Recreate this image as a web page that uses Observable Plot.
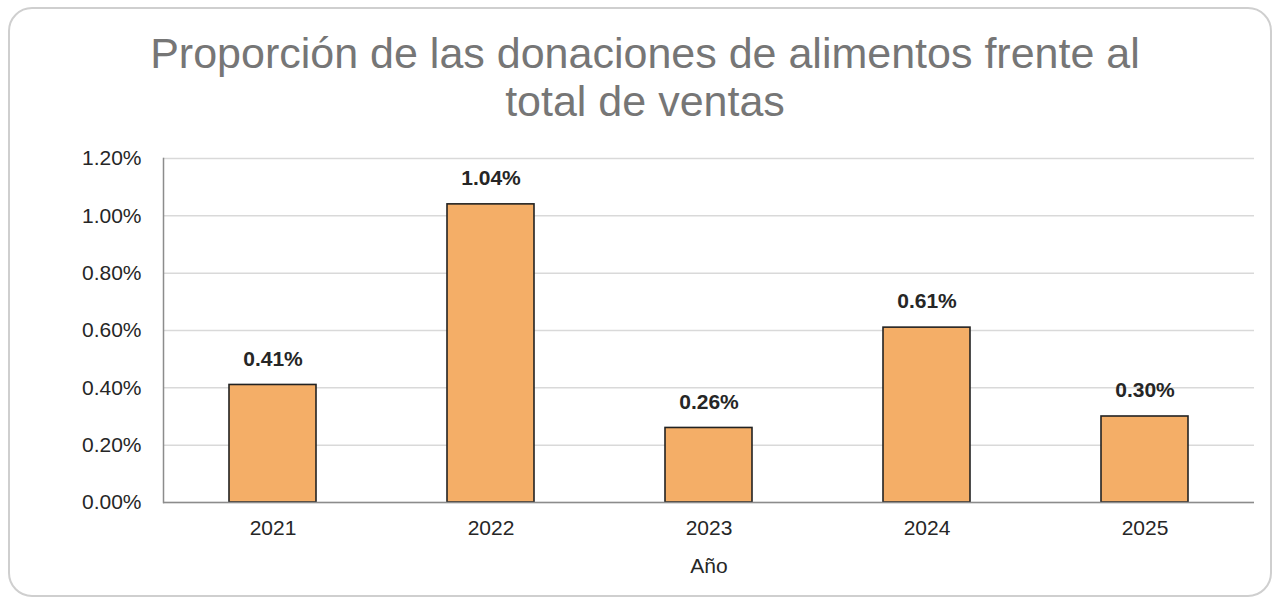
<!DOCTYPE html>
<html>
<head>
<meta charset="utf-8">
<script src="https://cdn.jsdelivr.net/npm/d3@7"></script>
<script src="https://cdn.jsdelivr.net/npm/@observablehq/plot@0.6"></script>
<style>
  html, body { margin: 0; padding: 0; background: #fff; }
  #wrap { position: relative; width: 1278px; height: 603px; overflow: hidden; font-family: "Liberation Sans", Arial, sans-serif; }
  #card { position: absolute; left: 8px; top: 7px; width: 1264px; height: 590px; border: 2px solid #cfcfcf; border-radius: 24px; box-sizing: border-box; }
  #title { position: absolute; left: 0; width: 1290px; top: 29px; text-align: center; font-size: 43px; line-height: 48px; color: #767676; }
  #chart { position: absolute; left: 0; top: 0; }
</style>
</head>
<body>
<div id="wrap">
  <div id="card"></div>
  <div id="chart"></div>
  <div id="title">Proporción de las donaciones de alimentos frente al<br>total de ventas</div>
</div>
<script>
const years = ["2021", "2022", "2023", "2024", "2025"];
const values = [0.0041, 0.0104, 0.0026, 0.0061, 0.0030];
const yTicks = [0, 0.002, 0.004, 0.006, 0.008, 0.010, 0.012];
const xLabel = "Año";

const data = years.map((y, i) => ({year: y, value: values[i]}));
const pct = d3.format(".2%");

const chart = Plot.plot({
  width: 1278,
  height: 603,
  marginLeft: 163,
  marginRight: 24,
  marginTop: 158,
  marginBottom: 101,
  style: {fontFamily: "'Liberation Sans', Arial, sans-serif", fontSize: "21px", color: "#262626", background: "transparent"},
  x: {domain: years, paddingInner: 0.6, paddingOuter: 0.3, label: null},
  y: {domain: [0, 0.012], label: null},
  marks: [
    Plot.gridY(yTicks, {stroke: "#d9d9d9", strokeOpacity: 1, strokeWidth: 1.5}),
    Plot.barY(data, {x: "year", y: "value", fill: "#F4AE67", stroke: "#222", strokeWidth: 1.6}),
    Plot.frame({anchor: "left", stroke: "#8c8c8c", strokeWidth: 1.5}),
    Plot.ruleY([0], {stroke: "#8c8c8c", strokeWidth: 1.5}),
    Plot.axisY(yTicks, {tickSize: 0, tickPadding: 22, tickFormat: pct, fontSize: 21, fill: "#262626"}),
    Plot.axisX({tickSize: 0, tickPadding: 18, fontSize: 21, fill: "#262626", label: null}),
    Plot.text(data, {x: "year", y: "value", text: d => pct(d.value), dy: -26, fontWeight: "bold", fontSize: 21, fill: "#262626"}),
    Plot.text([xLabel], {frameAnchor: "bottom", dy: 70, fontSize: 21, fill: "#262626"})
  ]
});
document.getElementById("chart").appendChild(chart);
</script>
</body>
</html>
